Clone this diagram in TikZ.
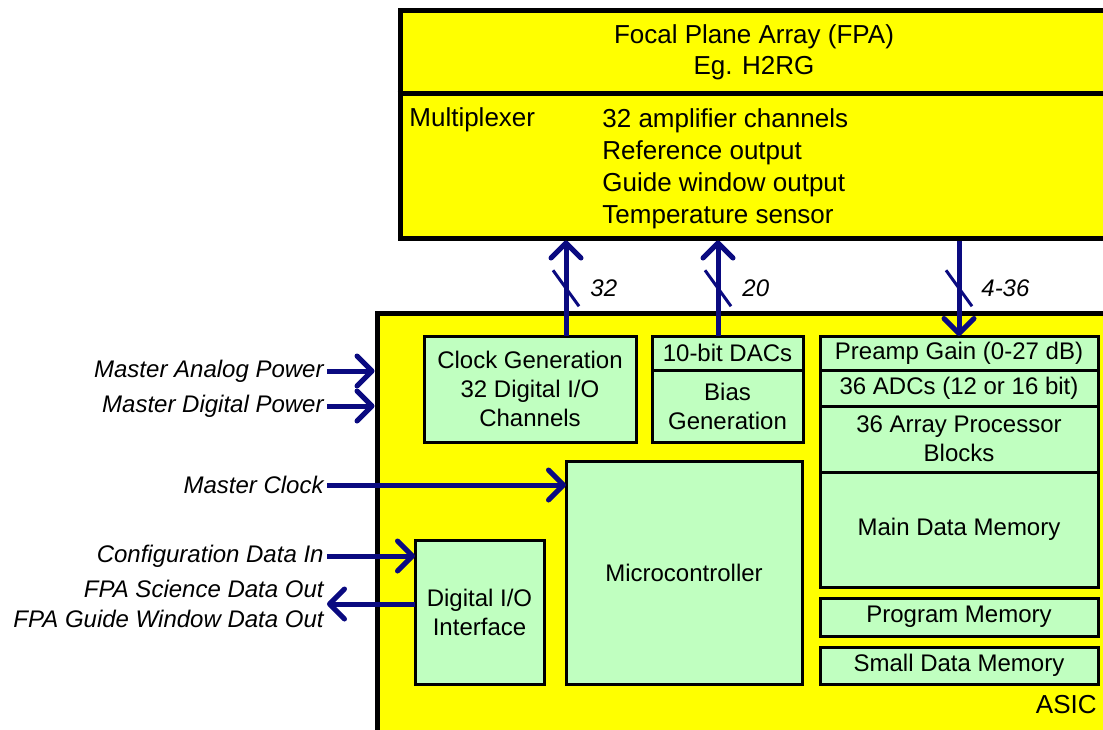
\documentclass[tikz,border=0pt]{standalone}
\usepackage{fontspec}
\setmainfont{Liberation Sans}
\usetikzlibrary{positioning,arrows.meta,calc}

\definecolor{chipyellow}{RGB}{255,255,0}
\definecolor{blockgreen}{RGB}{192,255,192}
\definecolor{busblue}{RGB}{10,10,128}

\tikzset{
  chip/.style={draw, fill=chipyellow, line width=2.5pt, inner sep=0pt},
  block/.style={draw, fill=blockgreen, line width=1.5pt, outer sep=0pt, inner sep=0pt,
    align=center, font=\fontsize{12}{14.5}\selectfont},
  fpatext/.style={inner sep=0pt, align=center, font=\fontsize{13}{15.5}\selectfont},
  sig/.style={inner sep=1.5pt, align=right, font=\fontsize{12}{15}\selectfont\itshape},
  bus/.style={draw=busblue, line width=2.5pt, -{Straight Barb[length=7.5pt,width=15pt,round]}},
  slash/.style={draw=busblue, line width=1.5pt},
  buslabel/.style={inner sep=0pt, font=\fontsize{12}{15}\selectfont\itshape}
}

\begin{document}
\begin{tikzpicture}[x=0.5pt, y=-0.5pt]
  \useasboundingbox (0,0) rectangle (1103,729);
  \clip (0,0) rectangle (1103,729);

  % Define the FPA box at the top
  \node[chip, minimum width=357.5pt, minimum height=114pt] (fpa) at (757.5,124) {};
  \coordinate (divider) at (0,93);
  \draw[line width=2.5pt] (fpa.west |- divider) -- (fpa.east |- divider);
  \node[fpatext] (fpaname) at (754,52) {Focal Plane Array (FPA)\\Eg. H2RG};
  \node[fpatext, anchor=west] (mux) at (409,120) {Multiplexer};
  \node[fpatext, anchor=west, align=left, font=\fontsize{13}{16}\selectfont] (muxlist) at (602,169)
    {32 amplifier channels\\Reference output\\Guide window output\\Temperature sensor};

  % Define the ASIC and the blocks inside it
  \node[chip, minimum width=369pt, minimum height=213.5pt] (asic) at (746,526.5) {};
  \node[fpatext, anchor=base east] (asicname) at (1097,713) {ASIC};

  \node[block, minimum width=106pt, minimum height=53pt] (clk) at (530,389)
    {Clock Generation\\32 Digital I/O\\Channels};
  \node[block, minimum width=75.5pt, minimum height=17pt] (dac) at (727.5,353) {10-bit DACs};
  \node[block, minimum width=75.5pt, minimum height=36pt, below=0pt of dac] (bias) {Bias\\Generation};

  \node[block, minimum width=139pt, minimum height=17pt] (pre) at (959,353) {Preamp Gain (0-27 dB)};
  \node[block, minimum width=139pt, minimum height=18pt, below=0pt of pre] (adc) {36 ADCs (12 or 16 bit)};
  \node[block, minimum width=139pt, minimum height=33pt, below=0pt of adc] (apb) {36 Array Processor\\Blocks};
  \node[block, minimum width=139pt, minimum height=57.5pt, below=0pt of apb] (mdm) {Main Data Memory};
  \node[block, minimum width=139pt, minimum height=19pt] (pgm) at (959,617) {Program Memory};
  \node[block, minimum width=139pt, minimum height=18.5pt] (sdm) at (959,665.5) {Small Data Memory};

  \node[block, minimum width=118pt, minimum height=111.5pt] (mcu) at (684,572.5) {Microcontroller};
  \node[block, minimum width=64.5pt, minimum height=72pt] (dio) at (479.5,612) {Digital I/O\\Interface};

  % Define the signals outside the ASIC
  \node[sig, anchor=east] (apow) at (327,371) {Master Analog Power};
  \node[sig, anchor=east] (dpow) at (327,406) {Master Digital Power};
  \node[sig, anchor=east] (mclk) at (327,485) {Master Clock};
  \node[sig, anchor=east] (cfg) at (327,556) {Configuration Data In};
  \node[sig, anchor=east] (dout) at (327,604) {FPA Science Data Out\\FPA Guide Window Data Out};

  % Draw the buses between the ASIC and the FPA
  \coordinate (b1) at ([xshift=18pt]clk.north);
  \coordinate (b2) at ([xshift=-4.75pt]dac.north);
  \draw[bus] (b1) -- coordinate (t1) (b1 |- fpa.south);
  \draw[bus] (b2) -- coordinate (t2) (b2 |- fpa.south);
  \draw[bus] (pre.north |- fpa.south) -- coordinate (t3) (pre.north);

  \draw[slash] ($(t1)+(-13,-18)$) -- ($(t1)+(13,18)$);
  \draw[slash] ($(t2)+(-13,-18)$) -- ($(t2)+(13,18)$);
  \draw[slash] ($(t3)+(-13,-18)$) -- ($(t3)+(13,18)$);
  \node[buslabel, anchor=west] (w1) at ($(t1)+(24,0)$) {32};
  \node[buslabel, anchor=west] (w2) at ($(t2)+(24,0)$) {20};
  \node[buslabel, anchor=west] (w3) at ($(t3)+(22,0)$) {4-36};

  % Draw the arrows between the signals and the ASIC
  \draw[bus] (apow.east) -- (apow.east -| asic.west);
  \draw[bus] (dpow.east) -- (dpow.east -| asic.west);
  \draw[bus] (mclk.east) -- (mclk.east -| mcu.west);
  \draw[bus] (cfg.east) -- (cfg.east -| dio.west);
  \draw[bus] (dout.east -| dio.west) -- (dout.east);
\end{tikzpicture}
\end{document}
